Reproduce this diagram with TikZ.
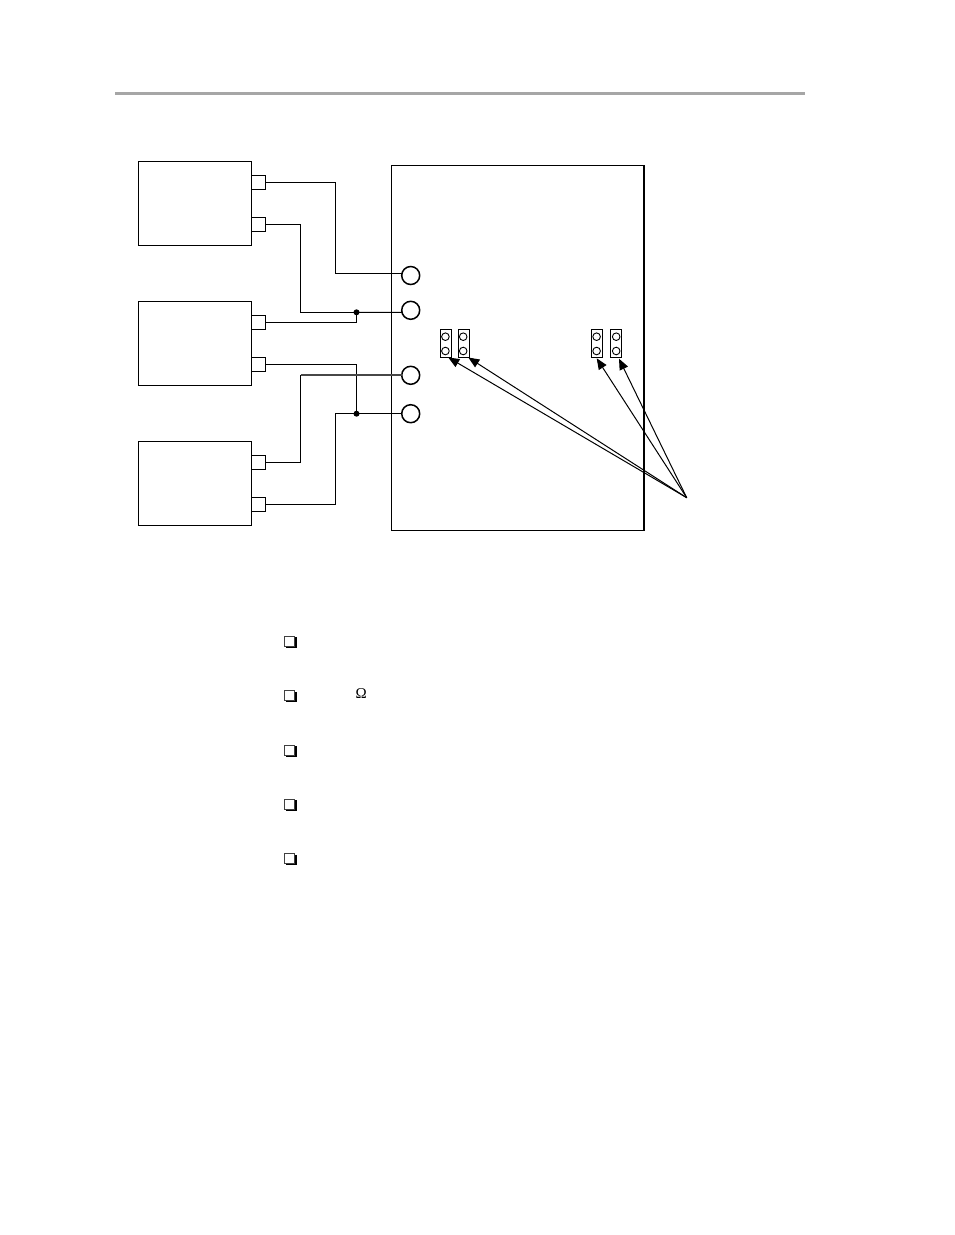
\documentclass[tikz,border=0pt]{standalone}
\usepackage{fontspec}
\setmainfont{Liberation Serif}
\usetikzlibrary{arrows.meta}
\tikzset{
  x=1pt,y=-1pt,
  unit/.style={draw=black,line width=1pt,minimum width=113.4pt,minimum height=83.8pt,inner sep=0pt,outer sep=0pt,fill=white},
  port/.style={draw=black,line width=1pt,minimum width=14pt,minimum height=14pt,inner sep=0pt,outer sep=0pt,fill=white},
  jack/.style={circle,draw=black,line width=1.5pt,minimum size=18pt,inner sep=0pt,outer sep=0pt,fill=white},
  jumper/.style={draw=black,line width=1pt,minimum width=11pt,minimum height=28pt,inner sep=0pt,outer sep=0pt,fill=white},
  pin/.style={circle,draw=black,line width=.9pt,minimum size=7.6pt,inner sep=0pt,outer sep=0pt},
  wire/.style={draw=black,line width=1pt},
  heavywire/.style={draw=black!72,line width=1.9pt},
  dotnode/.style={circle,fill=black,minimum size=6pt,inner sep=0pt,outer sep=0pt},
  pointer/.style={draw=black,line width=1pt,-{Triangle[length=11pt,width=9pt]}},
  checkbox/.style={draw=black!75,line width=.9pt,minimum size=10pt,inner sep=0pt,outer sep=0pt,fill=white},
  shadowbar/.style={fill=black,draw=none},
}
\begin{document}
\begin{tikzpicture}
\useasboundingbox (0,0) rectangle (954,1235);
\fill[white] (0,0) rectangle (954,1235);
% header rule
\coordinate (ruleL) at (115,93);
\coordinate (ruleR) at (804.5,93);
\draw[line width=3pt,draw=black!35] (ruleL) -- (ruleR);
% main board
\node[draw=black,line width=1.1pt,minimum width=252.5pt,minimum height=364.8pt,inner sep=0pt,outer sep=0pt] (board) at (517.75,347.9) {};
\draw[line width=2pt] (board.north east) -- (board.south east);
% units
\node[unit] (u1) at (195,203.4) {};
\node[unit] (u2) at (195,343.3) {};
\node[unit] (u3) at (195,483.3) {};
% ports
\node[port] (p1) at (258.7,182.3) {};
\node[port] (p2) at (258.7,224.3) {};
\node[port] (p3) at (258.7,322.3) {};
\node[port] (p4) at (258.7,364.3) {};
\node[port] (p5) at (258.7,462.3) {};
\node[port] (p6) at (258.7,504.3) {};
\draw[line width=1.5pt] (p6.north west) -- (p6.north east);
% bends and junctions
\coordinate (b1) at (335.3,230);
\coordinate (b2) at (300.7,270);
\coordinate (b3) at (300.7,420);
\coordinate (b4) at (335.3,460);
\node[dotnode] (j1) at (356.5,312.3) {};
\node[dotnode] (j2) at (356.5,413.7) {};
% jacks
\node[jack] (c1) at (410.7,275.5) {};
\node[jack] (c2) at (410.7,310.3) {};
\node[jack] (c3) at (410.7,375.3) {};
\node[jack] (c4) at (410.7,413.7) {};
% wires
\draw[wire] (p1.east) -| (b1) |- (c1.167);
\draw[wire] (p2.east) -| (b2) |- (j1.center);
\draw[wire] (j1.center) -- (c2.193);
\draw[wire] (p3.east) -| (j1.center);
\draw[wire] (p4.east) -| (j2.center);
\draw[wire] (p6.east) -| (b4) |- (j2.center);
\draw[wire] (j2.center) -- (c4.west);
\draw[wire] (p5.east) -| (b3);
\draw[wire] (b3) -- (b3 |- c3.west);
\draw[heavywire] (b3 |- c3.west) -- (c3.west);
% jumpers
\node[jumper] (jp1) at (445.8,343.3) {};
\node[jumper] (jp2) at (463.5,343.3) {};
\node[jumper] (jp3) at (596.8,343.3) {};
\node[jumper] (jp4) at (615.8,343.3) {};
\foreach \n/\x in {1/445.4,2/463.2,3/596.6,4/616.2}{
  \node[pin] (jp\n a) at (\x,336.7) {};
  \node[pin] (jp\n b) at (\x,351) {};
}
% pointers
\coordinate (tip) at (686.7,497.7);
\draw[pointer] (tip) -- (448.3,357.5);
\draw[pointer] (tip) -- (468.3,357.5);
\draw[pointer] (tip) -- (596.7,358.3);
\draw[pointer] (tip) -- (619,358.7);
% check boxes
\foreach \n/\y in {1/641.2,2/695.5,3/750,4/804.3,5/858.5}{
  \fill[shadowbar] (286,\y+3) rectangle (297.4,\y+6.9);
  \fill[shadowbar] (293.5,\y-4) rectangle (297.4,\y+6.9);
  \node[checkbox] (b\n x) at (289.9,\y) {};
}
\node[inner sep=0pt,font=\fontsize{15}{15}\selectfont] (omega) at (361.3,693.2) {Ω};
\end{tikzpicture}
\end{document}
